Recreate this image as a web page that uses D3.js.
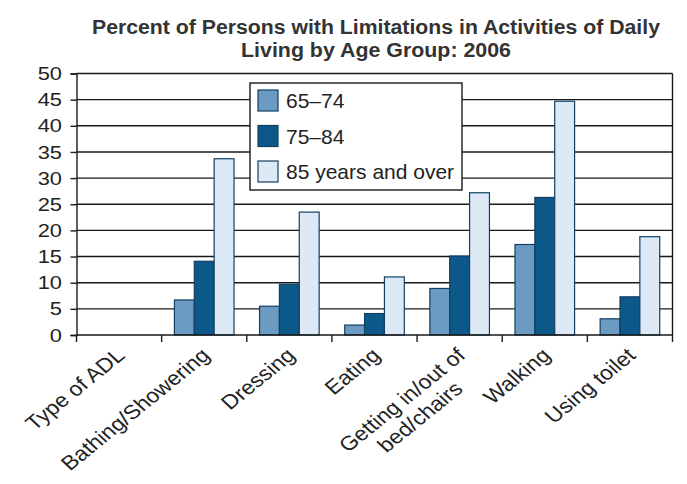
<!DOCTYPE html>
<html>
<head>
<meta charset="utf-8">
<script src="https://cdn.jsdelivr.net/npm/d3@7"></script>
<style>
  body { margin: 0; background: #fff; }
  svg { display: block; }
</style>
</head>
<body>
<div id="chart"></div>
<script>
// Chart data
const categories = ["Type of ADL", "Bathing/Showering", "Dressing", "Eating", "Getting in/out of\nbed/chairs", "Walking", "Using toilet"];
const seriesNames = ["65\u201374", "75\u201384", "85 years and over"];
const age65to74 = [null, 6.7, 5.5, 1.9, 8.9, 17.3, 3.1];
const age75to84 = [null, 14.1, 9.7, 4.1, 15.1, 26.3, 7.3];
const age85plus = [null, 33.7, 23.5, 11.1, 27.2, 44.7, 18.8];
const yTicks = [0, 5, 10, 15, 20, 25, 30, 35, 40, 45, 50];
const titleLines = ["Percent of Persons with Limitations in Activities of Daily", "Living by Age Group: 2006"];

const colors = ["#6b9bc3", "#0c5888", "#dde9f5"];
const barStroke = "#123f63";
const ink = "#1a1a1a";
// the scanned reference is a little wider than tall, text included
const stretch = 1.15;

const W = 687, H = 484;
const plot = { left: 76.5, right: 672.5, top: 73.5, bottom: 335 };

const svg = d3.select("#chart").append("svg")
  .attr("width", W)
  .attr("height", H);

// Title
const titleWidths = [568, 270];
svg.append("g")
  .selectAll("text")
  .data(titleLines)
  .join("text")
  .attr("x", 376)
  .attr("y", (d, i) => 34 + i * 23)
  .attr("text-anchor", "middle")
  .attr("font-family", "'Liberation Sans', Arial, sans-serif")
  .attr("font-weight", "bold")
  .attr("font-size", 19.5)
  .attr("textLength", (d, i) => titleWidths[i])
  .attr("lengthAdjust", "spacingAndGlyphs")
  .attr("fill", "#333")
  .text(d => d);

// Scales
const x0 = d3.scaleBand()
  .domain(categories)
  .range([plot.left, plot.right])
  .padding(0);

const groupW = x0.bandwidth() * 0.7;
const x1 = d3.scaleBand()
  .domain(seriesNames)
  .range([(x0.bandwidth() - groupW) / 2, (x0.bandwidth() + groupW) / 2])
  .padding(0);

const y = d3.scaleLinear()
  .domain([0, 50])
  .range([plot.bottom, plot.top]);

// Gridlines
svg.append("g")
  .selectAll("line")
  .data(yTicks.filter(d => d > 0))
  .join("line")
  .attr("x1", plot.left)
  .attr("x2", plot.right)
  .attr("y1", d => y(d))
  .attr("y2", d => y(d))
  .attr("stroke", ink)
  .attr("stroke-width", 1.4);

// Right border
svg.append("line")
  .attr("x1", plot.right).attr("x2", plot.right)
  .attr("y1", plot.top).attr("y2", plot.bottom)
  .attr("stroke", ink)
  .attr("stroke-width", 1.4);

// Bars
const seriesValues = [age65to74, age75to84, age85plus];
const barData = [];
categories.forEach((c, i) => {
  seriesNames.forEach((s, j) => {
    const v = seriesValues[j][i];
    if (v != null) barData.push({ cat: c, series: s, idx: j, value: v });
  });
});

svg.append("g")
  .selectAll("rect")
  .data(barData)
  .join("rect")
  .attr("x", d => x0(d.cat) + x1(d.series))
  .attr("y", d => y(d.value))
  .attr("width", x1.bandwidth())
  .attr("height", d => y(0) - y(d.value))
  .attr("fill", d => colors[d.idx])
  .attr("stroke", barStroke)
  .attr("stroke-width", 1.2);

// Y axis
const yAxis = d3.axisLeft(y)
  .tickValues(yTicks)
  .tickSize(6);

const yG = svg.append("g")
  .attr("transform", `translate(${plot.left},0)`)
  .call(yAxis);
yG.select(".domain").attr("stroke", ink).attr("stroke-width", 1.4);
yG.selectAll(".tick line").attr("stroke", ink).attr("stroke-width", 1.4);
yG.selectAll(".tick text")
  .attr("x", -14.5 / stretch)
  .attr("transform", `scale(${stretch},1)`)
  .attr("font-family", "'Liberation Sans', Arial, sans-serif")
  .attr("font-size", 19)
  .attr("fill", "#222");

// X axis baseline and boundary ticks
svg.append("line")
  .attr("x1", plot.left).attr("x2", plot.right)
  .attr("y1", y(0)).attr("y2", y(0))
  .attr("stroke", ink)
  .attr("stroke-width", 1.4);

const boundaries = categories.map(c => x0(c)).concat([plot.right]);
svg.append("g")
  .selectAll("line")
  .data(boundaries)
  .join("line")
  .attr("x1", d => d).attr("x2", d => d)
  .attr("y1", y(0)).attr("y2", y(0) + 7)
  .attr("stroke", ink)
  .attr("stroke-width", 1.4);

// X labels, rotated
const labelG = svg.append("g");
categories.forEach(c => {
  const cx = x0(c) + x0.bandwidth() / 2 + 7;
  const cy = 357;
  const lines = c.split("\n");
  const t = labelG.append("text")
    .attr("transform", `translate(${cx},${cy}) scale(${stretch},1) rotate(-43)`)
    .attr("font-family", "'Liberation Sans', Arial, sans-serif")
    .attr("font-size", 20)
    .attr("fill", "#222");
  if (lines.length === 1) {
    t.attr("text-anchor", "end").text(c);
  } else {
    // measure the longest line so shorter ones centre under it
    const tmp = t.append("tspan").text(lines[0]);
    const w = tmp.node().getComputedTextLength();
    tmp.remove();
    t.attr("text-anchor", "middle");
    lines.forEach((ln, k) => {
      t.append("tspan")
        .attr("x", -w / 2)
        .attr("y", k * 23)
        .text(ln);
    });
  }
});

// Legend
const legend = svg.append("g").attr("transform", "translate(250,83)");
legend.append("rect")
  .attr("width", 212)
  .attr("height", 107)
  .attr("fill", "#fff")
  .attr("stroke", ink)
  .attr("stroke-width", 1.4);

const items = legend.selectAll("g.item")
  .data(seriesNames)
  .join("g")
  .attr("class", "item")
  .attr("transform", (d, i) => `translate(8,${7 + i * 35.5})`);

items.append("rect")
  .attr("width", 20)
  .attr("height", 21)
  .attr("fill", (d, i) => colors[i])
  .attr("stroke", barStroke)
  .attr("stroke-width", 1.2);

items.append("text")
  .attr("x", 28)
  .attr("y", 18)
  .attr("font-family", "'Liberation Sans', Arial, sans-serif")
  .attr("font-size", 21)
  .attr("fill", "#222")
  .text(d => d);
</script>
</body>
</html>
